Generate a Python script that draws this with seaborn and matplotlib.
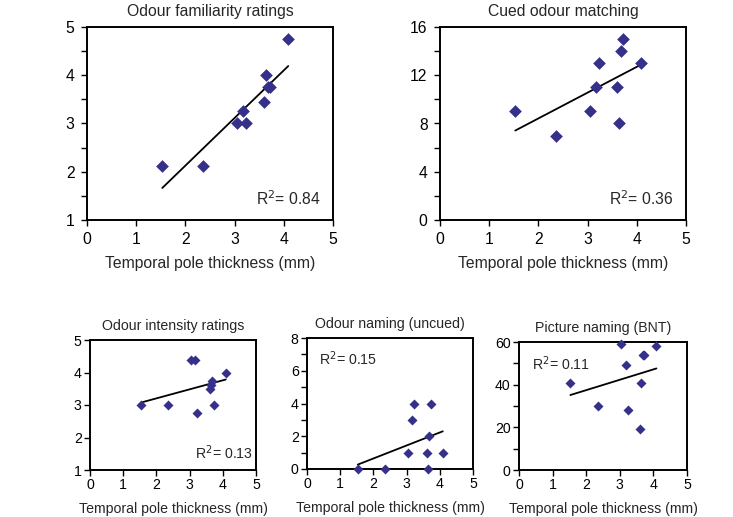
import matplotlib
matplotlib.use('Agg')
import matplotlib.pyplot as plt
import seaborn as sns
import numpy as np
import pandas as pd
from matplotlib.ticker import MultipleLocator

sns.set_style('ticks')
plt.rcParams['font.family'] = ['Liberation Sans', 'DejaVu Sans']

# temporal pole thickness (mm), one value per subject
thickness = [1.53, 2.35, 3.05, 3.17, 3.23, 3.60, 3.64, 3.68, 3.72, 4.09]

familiarity = [2.12, 2.12, 3.0, 3.25, 3.0, 3.44, 4.0, 3.75, 3.75, 4.75]
cued_match = [9, 7, 9, 11, 13, 11, 8, 14, 15, 13]
intensity = [3.0, 3.0, 4.38, 4.38, 2.75, 3.5, 3.63, 3.75, 3.0, 4.0]
naming = [0, 0, 1, 3, 4, 1, 0, 2, 4, 1]
bnt = [41, 30, 59, 49, 28, 19, 41, 54, 54, 58]

titles = ['Odour familiarity ratings', 'Cued odour matching', 'Odour intensity ratings',
          'Odour naming (uncued)', 'Picture naming (BNT)']
r2_labels = ['0.84', '0.36', '0.13', '0.15', '0.11']
xlabel = 'Temporal pole thickness (mm)'

marker_col = '#35318a'

fig = plt.figure(figsize=(7.33, 5.17), dpi=100)
W, H = 733, 517


def make_ax(left, right, top, bottom):
    return fig.add_axes([left / W, (H - bottom) / H, (right - left) / W, (bottom - top) / H])


axes = [
    make_ax(87, 333, 27, 220),
    make_ax(440, 686, 27, 220),
    make_ax(90, 256, 340, 470),
    make_ax(307, 473, 338, 469),
    make_ax(519, 687, 342, 470),
]
series = [familiarity, cued_match, intensity, naming, bnt]
ylims = [(1, 5), (0, 16), (1, 5), (0, 8), (0, 60)]
ymajor = [1, 4, 1, 2, 20]
yminor = [0.5, 2, 1, 1, 10]
# R2 text position (axes fraction) and alignment
r2_pos = [(0.95, 0.11, 'right'), (0.95, 0.11, 'right'), (0.98, 0.13, 'right'),
          (0.07, 0.84, 'left'), (0.08, 0.83, 'left')]

for i, ax in enumerate(axes):
    top = i < 2
    fs = 11.3 if top else 10.2
    df = pd.DataFrame({'x': thickness, 'y': series[i]})
    sns.regplot(data=df, x='x', y='y', ax=ax, ci=None, truncate=True, marker='D',
                scatter_kws=dict(color=marker_col, s=42 if top else 26, linewidths=0,
                                 alpha=1, clip_on=False, zorder=3),
                line_kws=dict(color='black', lw=1.3))
    ax.set_xlim(0, 5)
    ax.set_ylim(*ylims[i])
    ax.xaxis.set_major_locator(MultipleLocator(1))
    ax.yaxis.set_major_locator(MultipleLocator(ymajor[i]))
    ax.yaxis.set_minor_locator(MultipleLocator(yminor[i]))
    ax.tick_params(which='both', direction='out', length=4, width=1, colors='black',
                   labelsize=fs, pad=5 if top else 2)
    ax.tick_params(which='minor', length=4)
    for sp in ax.spines.values():
        sp.set_visible(True)
        sp.set_linewidth(1.4)
        sp.set_color('black')
    ax.set_title(titles[i], fontsize=fs, pad=8 if top else 7)
    ax.set_xlabel(xlabel, fontsize=fs, labelpad=6 if top else 7)
    ax.set_ylabel('')
    px, py, ha = r2_pos[i]
    ax.text(px, py, 'R$^2$= ' + r2_labels[i], transform=ax.transAxes, ha=ha, va='center',
            fontsize=fs)

fig.savefig('out.png', dpi=100)
